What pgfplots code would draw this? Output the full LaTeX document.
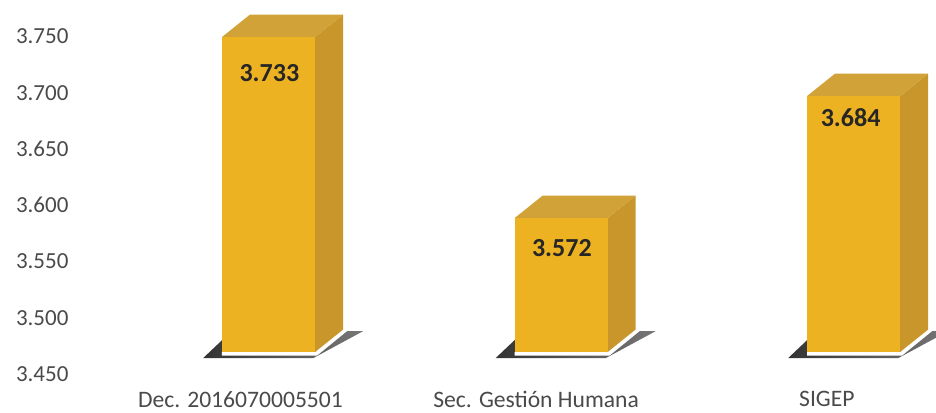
\documentclass[border=0pt]{standalone}
\usepackage{fontspec}
\setmainfont{Carlito}
\usepackage{pgfplots}
\pgfplotsset{compat=1.18}

\definecolor{frontc}{HTML}{EDB221}
\definecolor{sidec}{HTML}{C8962B}
\definecolor{topc}{HTML}{D0A238}
\definecolor{shadowc}{HTML}{333333}
\definecolor{shadowd}{HTML}{777777}
\definecolor{tickc}{HTML}{4A4A4A}

% #1 position, #2 value, #3 lift of the drawn box, #4 label x, #5 label y, #6 label
\newcommand{\threedbar}[6]{%
  \pgfmathsetmacro{\xl}{#1-0.159}%
  \pgfmathsetmacro{\xr}{#1+0.159}%
  \pgfmathsetmacro{\xb}{#1+0.255}%
  \pgfmathsetmacro{\xtl}{#1-0.063}%
  \pgfmathsetmacro{\ytop}{#2+#3}%
  \pgfmathsetmacro{\ytb}{#2+#3+20}%
  \pgfmathsetmacro{\xsa}{#1-0.224}%
  \pgfmathsetmacro{\xsb}{#1+0.152}%
  \pgfmathsetmacro{\xsc}{#1+0.323}%
  \pgfmathsetmacro{\xwa}{#1+0.166}%
  \pgfmathsetmacro{\xwb}{#1+0.275}%
  % shadow on the floor
  \addplot[left color=shadowc, right color=shadowd, draw=none] coordinates {(\xsa,3464) (\xsb,3464) (\xsc,3488) (\xb,3488) (\xl,3480)};
  \addplot[fill=white, draw=none] coordinates {(\xl,3466.4) (\xwa,3466.4) (\xwb,3489.5) (\xb,3493) (\xr,3469.5) (\xl,3469.5)};
  % faces
  \addplot[fill=sidec, draw=none] coordinates {(\xr,3469.5) (\xb,3489.5) (\xb,\ytb) (\xr,\ytop)};
  \addplot[fill=topc, draw=none] coordinates {(\xl,\ytop) (\xr,\ytop) (\xb,\ytb) (\xtl,\ytb)};
  \addplot[fill=frontc, draw=none] coordinates {(\xl,3469.5) (\xr,3469.5) (\xr,\ytop) (\xl,\ytop)};
  \node[font=\fontsize{26}{30}\selectfont\bfseries, text=black!85] at (axis cs:#4,#5) {#6};
}

\begin{document}
\begin{tikzpicture}[x=1pt,y=1pt]
\path[use as bounding box] (0,0) rectangle (936,412);
\begin{axis}[
    at={(60pt,38pt)},
    anchor=south west,
    scale only axis,
    width=876pt,
    height=369pt,
    xmin=-0.7128, xmax=2.282,
    ymin=3450, ymax=3778,
    clip=false,
    axis line style={draw=none},
    major tick style={draw=none},
    ytick={3450,3500,3550,3600,3650,3700,3750},
    xtick={-0.096,0.915,1.909},
    xticklabels={Dec. 2016070005501, Sec. Gestión Humana, SIGEP},
    scaled y ticks=false,
    /pgf/number format/assume math mode=true,
    /pgf/number format/1000 sep={.},
    yticklabel style={font=\fontsize{23}{26}\selectfont, text=tickc, xshift=12pt},
    xticklabel style={font=\fontsize{23.6}{26}\selectfont, text=tickc, inner ysep=0pt, yshift=-17pt},
]
\threedbar{0}{3733}{16.5}{0.003}{3717.6}{3.733}
\threedbar{1}{3572}{16.5}{1.003}{3562}{3.572}
\threedbar{2}{3684}{13}{1.99}{3677.6}{3.684}
\end{axis}
\end{tikzpicture}
\end{document}
